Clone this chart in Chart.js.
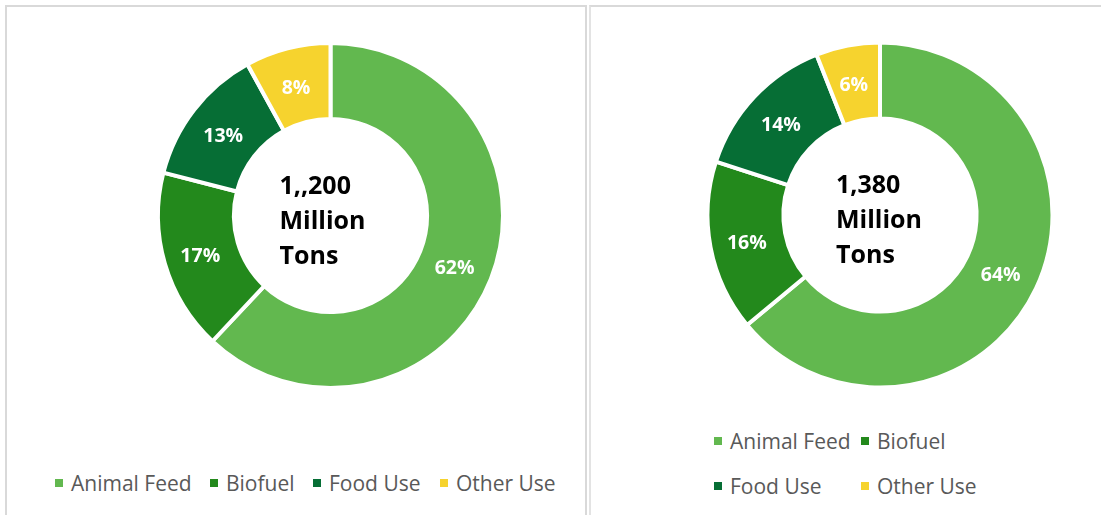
<!DOCTYPE html>
<html>
<head>
<meta charset="utf-8">
<script src="https://cdn.jsdelivr.net/npm/chart.js@4.4.1/dist/chart.umd.min.js"></script>
<style>
  html, body { margin: 0; padding: 0; background: #ffffff; width: 1101px; height: 515px; overflow: hidden; }
  .panelL { position: absolute; left: 5px; top: 5px; width: 582px; height: 520px; border-left: 2px solid #d9d9d9; border-top: 2px solid #d9d9d9; border-right: 2px solid #d9d9d9; box-sizing: border-box; }
  .panelR { position: absolute; left: 589px; top: 5px; width: 520px; height: 520px; border-left: 2px solid #e3e3e3; border-top: 2px solid #d9d9d9; box-sizing: border-box; }
  canvas { position: absolute; }
  .legend { position: absolute; font-family: "Open Sans", sans-serif; font-size: 21px; color: #595959; white-space: nowrap; }
  .item { position: absolute; display: flex; align-items: center; height: 24px; }
  .box { width: 8px; height: 8px; margin-right: 8px; }
</style>
</head>
<body>
<div class="panelL"></div>
<div class="panelR"></div>
<canvas id="c1" width="401" height="401" style="left:130px; top:15px; width:401px; height:401px;"></canvas>
<canvas id="c2" width="400" height="400" style="left:680px; top:15px; width:400px; height:400px;"></canvas>
<div id="leg1" class="legend"></div>
<div id="leg2" class="legend"></div>
<script>
// ---- data ----
const categories = ["Animal Feed", "Biofuel", "Food Use", "Other Use"];
const sharesLeft = [62, 17, 13, 8];
const sharesRight = [64, 16, 14, 6];
const centerLeft = ["1,,200", "Million", "Tons"];
const centerRight = ["1,380", "Million", "Tons"];
const colors = ["#62B84F", "#23891C", "#066E35", "#F6D32E"];

const arcLabels = {
  id: 'arcLabels',
  afterDatasetsDraw(chart, args, opts) {
    const ctx = chart.ctx;
    const meta = chart.getDatasetMeta(0);
    const ds = chart.data.datasets[0];
    ctx.save();
    ctx.font = 'bold 19.5px "Open Sans"';
    ctx.fillStyle = '#ffffff';
    ctx.textAlign = 'center';
    ctx.textBaseline = 'middle';
    meta.data.forEach((arc, i) => {
      const p = arc.tooltipPosition(true);
      ctx.fillText(ds.data[i] + '%', p.x - 1, p.y + 3);
    });
    const c = meta.data[0];
    ctx.font = 'bold 25px "Open Sans"';
    ctx.fillStyle = '#000000';
    ctx.textAlign = 'left';
    ctx.textBaseline = 'alphabetic';
    (opts.lines || []).forEach((t, i) => {
      ctx.fillText(t, c.x + opts.dx, c.y - 22 + i * 35);
    });
    ctx.restore();
  }
};

function makeChart(id, data, lines, dx) {
  return new Chart(document.getElementById(id), {
    type: 'doughnut',
    data: {
      labels: categories,
      datasets: [{
        data: data,
        backgroundColor: colors,
        borderColor: '#ffffff',
        borderWidth: 4,
        hoverOffset: 0
      }]
    },
    options: {
      responsive: false,
      animation: false,
      radius: 172.5,
      cutout: '56%',
      layout: { padding: 0 },
      plugins: {
        legend: { display: false },
        tooltip: { enabled: false },
        arcLabels: { lines: lines, dx: dx }
      }
    },
    plugins: [arcLabels]
  });
}

makeChart('c1', sharesLeft, centerLeft, -51);
makeChart('c2', sharesRight, centerRight, -44);

function buildLegend(id, positions) {
  const el = document.getElementById(id);
  categories.forEach((name, i) => {
    const it = document.createElement('div');
    it.className = 'item';
    it.style.left = positions[i][0] + 'px';
    it.style.top = (positions[i][1] - 12) + 'px';
    const b = document.createElement('span');
    b.className = 'box';
    b.style.background = colors[i];
    const t = document.createElement('span');
    t.textContent = name;
    it.appendChild(b); it.appendChild(t);
    el.appendChild(it);
  });
}
buildLegend('leg1', [[55, 483], [210, 483], [313, 483], [440, 483]]);
buildLegend('leg2', [[714, 441], [861, 441], [714, 486], [861, 486]]);
</script>
</body>
</html>
